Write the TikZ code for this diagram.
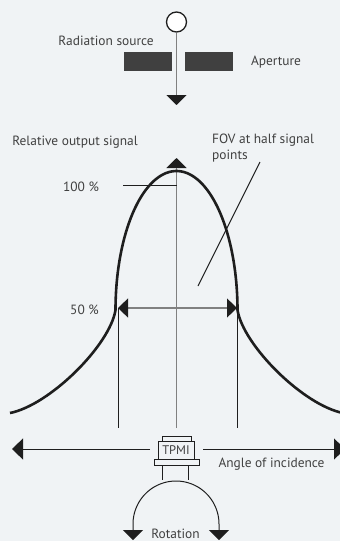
\documentclass[tikz,border=0pt]{standalone}
\usepackage{fontspec}
\setmainfont{PT Sans}
\usetikzlibrary{arrows.meta}
\definecolor{bg}{HTML}{F0F3F5}
\definecolor{dark}{HTML}{1E1E1E}
\definecolor{axisgray}{HTML}{808080}
\definecolor{aper}{HTML}{404040}
\tikzset{
  lbl/.style={inner sep=0pt, font=\fontsize{13.4}{15.5}\selectfont, text=dark!85},
  thin line/.style={draw=dark, line width=1pt},
  gray line/.style={draw=axisgray, line width=1.2pt},
  big tip/.style={-{Triangle[width=20pt,length=10pt,color=dark]}},
  sensorbox/.style={draw=dark, line width=1pt, fill=bg},
}
\begin{document}
\begin{tikzpicture}[x=1pt,y=-1pt]
\fill[bg] (0,0) rectangle (340,541);
\useasboundingbox (0,0) rectangle (340,541);
\clip (0,0) rectangle (340,541);

% radiation source and aperture
\node[circle, draw=dark, line width=1.3pt, fill=white, minimum size=20pt, inner sep=0pt] (src) at (176.5,22) {};
\coordinate (srcend) at (176.5,105);
\draw[gray line, big tip] (src.south) -- (srcend);
\node[fill=aper, minimum width=48pt, minimum height=19pt, inner sep=0pt] (apL) at (148,61.5) {};
\node[fill=aper, minimum width=48pt, minimum height=19pt, inner sep=0pt] (apR) at (209,61.5) {};
\node[lbl] (tsrc) at (106,41) {Radiation source};
\node[lbl] (tap) at (276,62) {Aperture};

% axis labels
\node[lbl] (tros) at (75,142) {Relative output signal};
\node[lbl, align=left, anchor=north west] (tfov) at (212,134) {FOV at half signal\\points};
\node[lbl] (t100) at (81,187) {100 \%};
\node[lbl] (t50) at (84.5,310) {50 \%};
\node[lbl] (tang) at (271.5,464) {Angle of incidence};
\node[lbl] (trot) at (175.5,533.5) {Rotation};

% coordinates
\coordinate (axbot) at (176.5,428);
\coordinate (axtop) at (176.5,158);
\coordinate (hL) at (118,308);
\coordinate (hR) at (237,308);
\coordinate (vLb) at (118,428);
\coordinate (vRb) at (237,428);
\coordinate (p100a) at (123,185);
\coordinate (p100b) at (177,185);
\coordinate (fova) at (260,162);
\coordinate (fovb) at (198,286);

% vertical axis
\draw[gray line, big tip] (axbot) -- (axtop);
% half signal arrow
\draw[gray line, {Triangle[width=19pt,length=10pt,color=dark]}-{Triangle[width=19pt,length=10pt,color=dark]}] (hL) -- (hR);
\draw[thin line] (hL) -- (vLb);
\draw[thin line] (hR) -- (vRb);
\draw[thin line] (p100a) -- (p100b);
\draw[thin line] (fova) -- (fovb);

% curve
\draw[dark, line width=2.6pt, line join=round]
  (10,413) .. controls (50,405) and (110,345) .. (115.5,310)
  -- plot[domain=180:0, samples=80] ({176.5+61*cos(\x)},{310-139*sin(\x)})
  .. controls (243,345) and (303,405) .. (343,413);

% sensor
\node[sensorbox, minimum width=29pt, minimum height=5pt, inner sep=0pt] (stop) at (176.5,438.5) {};
\node[sensorbox, minimum width=36pt, minimum height=18pt, inner sep=0pt, font=\fontsize{12.5}{13}\selectfont, text=dark!85] (sensor) at (176,450.5) {TPMI};
\node[sensorbox, minimum width=45pt, minimum height=6.5pt, inner sep=0pt] (flange) at (176.5,462.5) {};
\coordinate (legLb) at (162.3,480);
\coordinate (legRb) at (188.5,480);
\draw[thin line] (legLb |- flange.south) -- (legLb);
\draw[thin line] (legRb |- flange.south) -- (legRb);

% horizontal axis
\coordinate (hxL) at (12,449);
\coordinate (hxR) at (345,449);
\draw[thin line, -{Triangle[width=21pt,length=11pt,color=dark]}] (150,449) coordinate (hxLa) -- (hxL);
\draw[thin line, -{Triangle[width=21pt,length=11pt,color=dark]}] (203,449) coordinate (hxRa) -- (hxR);

% rotation arc
\draw[dark, line width=1pt, {Triangle[width=20pt,length=10pt,color=dark]}-{Triangle[width=20pt,length=10pt,color=dark]}]
  (133,540) -- (133,524)
  -- plot[domain=180:0, samples=60] ({176+43*cos(\x)},{524-43*sin(\x)})
  -- (219,540);
\end{tikzpicture}
\end{document}
